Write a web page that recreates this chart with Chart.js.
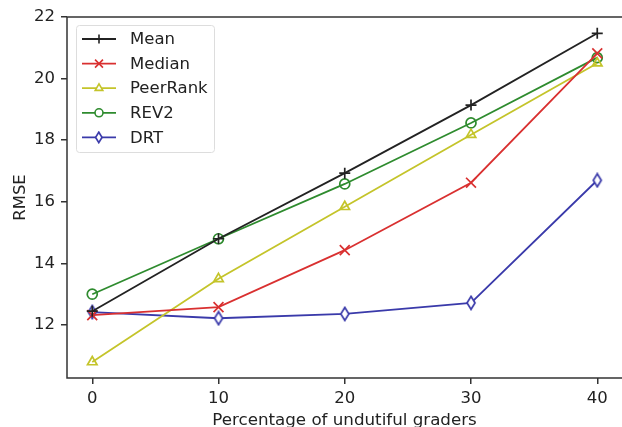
<!DOCTYPE html>
<html>
<head>
<meta charset="utf-8">
<script src="https://cdn.jsdelivr.net/npm/chart.js@4/dist/chart.umd.min.js"></script>
<style>
  html, body { margin: 0; padding: 0; background: #fff; overflow: hidden; }
  canvas { display: block; }
</style>
</head>
<body>
<canvas id="grafico" width="622" height="427"></canvas>
<script>
// dados
var percentuais = [0, 10, 20, 30, 40];
var mean      = [12.45, 14.80, 16.93, 19.14, 21.47];
var median    = [12.32, 12.58, 14.43, 16.62, 20.82];
var peerRank  = [10.80, 13.50, 15.84, 18.18, 20.50];
var rev2      = [13.00, 14.80, 16.58, 18.56, 20.68];
var drt       = [12.42, 12.22, 12.36, 12.72, 16.70];
var ticksX = [0, 10, 20, 30, 40];
var ticksY = [12, 14, 16, 18, 20, 22];

var fonte = 'DejaVu Sans';
var corEixo = '#333333';

// losango fino (marcador 'd' do matplotlib)
function losango(cor, esc) {
    var c = document.createElement('canvas');
    c.width = Math.round(12 * esc); c.height = Math.round(16 * esc);
    var ctx = c.getContext('2d');
    ctx.scale(esc, esc);
    ctx.strokeStyle = cor;
    ctx.lineWidth = 1.7 / esc;
    ctx.beginPath();
    ctx.moveTo(6, 1.5);
    ctx.lineTo(10, 8);
    ctx.lineTo(6, 14.5);
    ctx.lineTo(2, 8);
    ctx.closePath();
    ctx.fillStyle = '#fff';
    ctx.fill();
    ctx.stroke();
    return c;
}

function serie(nome, valores, cor, marcador, raio, marcadorLegenda) {
    return {
        label: nome,
        data: valores.map(function (v, i) { return {x: percentuais[i], y: v}; }),
        borderColor: cor,
        backgroundColor: 'rgba(0,0,0,0)',
        borderWidth: 1.8,
        pointStyle: marcador,
        pointRadius: raio,
        pointBorderWidth: 1.7,
        pointBorderColor: cor,
        pointBackgroundColor: 'rgba(0,0,0,0)',
        marcadorLegenda: marcadorLegenda || marcador,
        tension: 0
    };
}

var datasets = [
    serie('Mean', mean, '#222222', 'cross', 5.5),
    serie('Median', median, '#d93030', 'crossRot', 7),
    serie('PeerRank', peerRank, '#c4c42a', 'triangle', 5.5),
    serie('REV2', rev2, '#2e8b2e', 'circle', 5),
    serie('DRT', drt, '#3a3aaa', losango('#3a3aaa', 1), 5, losango('#3a3aaa', 0.8))
];

// eixos (sem o da direita, que fica fora da imagem) e legenda no estilo matplotlib
var pluginMoldura = {
    id: 'moldura',
    afterDatasetsDraw: function (chart) {
        var ctx = chart.ctx, a = chart.chartArea;
        ctx.save();
        ctx.strokeStyle = corEixo;
        ctx.lineWidth = 1.5;
        ctx.beginPath();
        ctx.moveTo(chart.width + 2, a.top);
        ctx.lineTo(a.left, a.top);
        ctx.lineTo(a.left, a.bottom);
        ctx.lineTo(chart.width + 2, a.bottom);
        ctx.stroke();

        // legenda
        var x0 = a.left + 9, y0 = a.top + 8, w = 138, h = 127;
        ctx.fillStyle = 'rgba(255,255,255,0.85)';
        ctx.strokeStyle = '#dddddd';
        ctx.lineWidth = 1;
        ctx.beginPath();
        ctx.roundRect(x0 + 0.5, y0 + 0.5, w, h, 3);
        ctx.fill();
        ctx.stroke();
        ctx.font = '16.5px "' + fonte + '"';
        ctx.textBaseline = 'middle';
        chart.data.datasets.forEach(function (ds, i) {
            var yy = y0 + 14 + i * 24.6;
            ctx.strokeStyle = ds.borderColor;
            ctx.lineWidth = 1.8;
            ctx.beginPath();
            ctx.moveTo(x0 + 6, yy);
            ctx.lineTo(x0 + 40, yy);
            ctx.stroke();
            ctx.fillStyle = '#ffffff';
            ctx.lineWidth = 1.6;
            Chart.helpers.drawPoint(ctx, {
                pointStyle: ds.marcadorLegenda,
                radius: ds.pointRadius * 0.8,
                borderWidth: 1.6,
                rotation: 0
            }, x0 + 23, yy);
            ctx.fillStyle = '#222';
            ctx.fillText(ds.label, x0 + 54, yy + 1);
        });
        ctx.restore();
    }
};

var contexto = document.getElementById('grafico').getContext('2d');

new Chart(contexto, {
    type: 'line',
    data: { datasets: datasets },
    options: {
        responsive: false,
        animation: false,
        events: [],
        layout: { autoPadding: false, padding: { top: 17, right: 0, left: 0, bottom: 0 } },
        plugins: {
            legend: { display: false },
            tooltip: { enabled: false }
        },
        scales: {
            x: {
                type: 'linear',
                min: -2,
                max: 41.96,
                afterBuildTicks: function (s) { s.ticks = ticksX.map(function (v) { return {value: v}; }); },
                afterFit: function (s) {
                    s.height = 49;
                    s.paddingLeft = 0;
                    s.paddingRight = 0;
                },
                grid: { drawOnChartArea: false, drawTicks: true, tickLength: 6, color: corEixo, lineWidth: 1.5 },
                border: { display: false },
                ticks: { color: '#222', font: { family: fonte, size: 16.5 }, padding: 5, maxRotation: 0 },
                title: {
                    display: true,
                    text: 'Percentage of undutiful graders',
                    color: '#222',
                    font: { family: fonte, size: 16.7 },
                    padding: { top: 0, bottom: -4 }
                }
            },
            y: {
                type: 'linear',
                min: 10.28,
                max: 22,
                afterBuildTicks: function (s) { s.ticks = ticksY.map(function (v) { return {value: v}; }); },
                afterFit: function (s) {
                    s.width = 67;
                    s.paddingTop = 0;
                    s.paddingBottom = 0;
                },
                grid: { drawOnChartArea: false, drawTicks: true, tickLength: 6, color: corEixo, lineWidth: 1.5 },
                border: { display: false },
                ticks: { color: '#222', font: { family: fonte, size: 16.5 }, padding: 6 },
                title: {
                    display: true,
                    text: 'RMSE',
                    color: '#222',
                    font: { family: fonte, size: 16.5 },
                    padding: { top: 11, bottom: 0 }
                }
            }
        }
    },
    plugins: [pluginMoldura]
});
</script>
</body>
</html>
